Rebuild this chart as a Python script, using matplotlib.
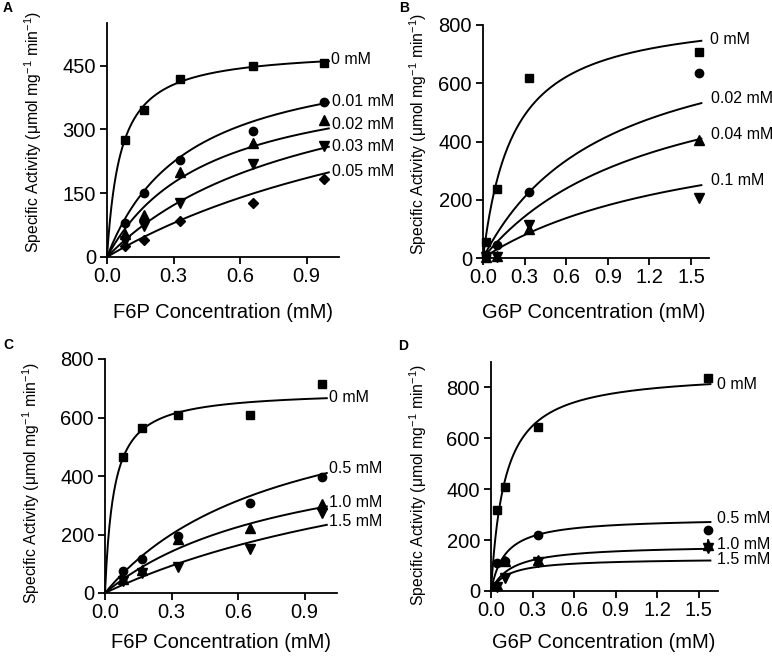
import numpy as np
import matplotlib
matplotlib.use("Agg")
import matplotlib.pyplot as plt

plt.rcParams['font.family'] = ['Liberation Sans', 'DejaVu Sans']
plt.rcParams['mathtext.fontset'] = 'custom'
plt.rcParams['mathtext.rm'] = 'Liberation Sans'
plt.rcParams['mathtext.it'] = 'Liberation Sans:italic'

# ---------------- data ----------------
# Panel A: F6P, inhibitor levels
a_x = [0.082, 0.165, 0.33, 0.66, 0.98]
a_labels = ['0 mM', '0.01 mM', '0.02 mM', '0.03 mM', '0.05 mM']
a_y0 = [275, 345, 419, 450, 457]
a_y1 = [81, 151, 229, 295, 364]
a_y2 = [54, 99, 200, 267, 322]
a_y3 = [38, 73, 126, 218, 262]
a_y4 = [26, 39, 85, 128, 183]
a_vmax = [489, 496, 440, 500, 555]
a_km = [0.062, 0.366, 0.456, 0.93, 1.79]

# Panel B: G6P
b_x = [0.025, 0.1, 0.333, 1.56]
b_labels = ['0 mM', '0.02 mM', '0.04 mM', '0.1 mM']
b_y0 = [54, 237, 617, 706]
b_y1 = [12, 46, 228, 635]
b_y2 = [4, 8, 100, 405]
b_y3 = [3, 5, 115, 206]
b_vmax = [850, 834, 735, 509]
b_km = [0.22, 0.895, 1.25, 1.63]

# Panel C: F6P
c_x = [0.082, 0.165, 0.33, 0.655, 0.98]
c_labels = ['0 mM', '0.5 mM', '1.0 mM', '1.5 mM']
c_y0 = [464, 563, 607, 607, 713]
c_y1 = [76, 117, 195, 307, 395]
c_y2 = [49, 80, 183, 221, 305]
c_y3 = [41, 70, 89, 150, 272]
c_vmax = [693, 741, 555, 655]
c_km = [0.0405, 0.807, 0.875, 1.81]

# Panel D: G6P
d_x = [0.04, 0.1, 0.336, 1.57]
d_labels = ['0 mM', '0.5 mM', '1.0 mM', '1.5 mM']
d_y0 = [319, 410, 646, 837]
d_y1 = [110, 116, 220, 238]
d_y2 = [22, 118, 122, 182]
d_y3 = [15, 52, 115, 168]
d_err2 = [0, 0, 0, 22]
d_vmax = [864, 288.6, 181.6, 129]
d_km = [0.0993, 0.103, 0.149, 0.121]

ylabel_text = 'Specific Activity (μmol mg$^{\\mathregular{-1}}$ min$^{\\mathregular{-1}}$)'

# ---------------- layout ----------------
W, H = 772, 657
fig = plt.figure(figsize=(W / 100, H / 100), dpi=100)

def px_axes(x0, x1, ybot, ytop):
    return fig.add_axes([x0 / W, (H - ybot) / H, (x1 - x0) / W, (ybot - ytop) / H])

def style(ax, xlim, ylim, xticks, yticks):
    ax.set_xlim(*xlim)
    ax.set_ylim(*ylim)
    for s in ['top', 'right']:
        ax.spines[s].set_visible(False)
    for s in ['left', 'bottom']:
        ax.spines[s].set_linewidth(1.3)
    ax.set_xticks(xticks)
    ax.set_xticklabels(['%.1f' % t for t in xticks])
    ax.set_yticks(yticks)
    ax.set_yticklabels(['%d' % t for t in yticks])
    ax.tick_params(axis='both', direction='out', width=1.3, length=5,
                   labelsize=14.5, pad=2)
    ax.tick_params(axis='y', pad=3)

markers = ['s', 'o', '^', 'v', 'D']
msizes = [5.5, 6, 6.5, 6.5, 5.5]

def draw(ax, xs, ys_list, vmax, km, labels, xend, offsets, marks, errs=None):
    for i, ys in enumerate(ys_list):
        xx = np.linspace(0, xend, 300)
        ax.plot(xx, vmax[i] * xx / (km[i] + xx), color='black', lw=1.4,
                clip_on=False)
        m = marks[i]
        ax.plot(xs, ys, linestyle='none', marker=m, color='black',
                markersize=msizes[markers.index(m)], clip_on=False)
        if errs is not None and errs[i] is not None:
            ax.errorbar(xs, ys, yerr=errs[i], fmt='none', ecolor='black',
                        elinewidth=1.2, capsize=0, clip_on=False)
        vend = vmax[i] * xend / (km[i] + xend)
        ax.annotate(labels[i], xy=(xend, vend), xytext=offsets[i],
                    textcoords='offset points', ha='left', va='center',
                    fontsize=11.5, annotation_clip=False)

# Panel A
axA = px_axes(107, 339, 257, 23)
style(axA, (0, 1.046), (0, 550), [0.0, 0.3, 0.6, 0.9], [0, 150, 300, 450])
draw(axA, a_x, [a_y0, a_y1, a_y2, a_y3, a_y4], a_vmax, a_km, a_labels, 1.0,
     [(1.5, 1), (2, 0.5), (2, 2.5), (2, 0), (2, 0.5)],
     ['s', 'o', '^', 'v', 'D'])

# Panel B
axB = px_axes(483, 709, 258, 25)
style(axB, (0, 1.63), (0, 800), [0.0, 0.3, 0.6, 0.9, 1.2, 1.5],
      [0, 200, 400, 600, 800])
draw(axB, b_x, [b_y0, b_y1, b_y2, b_y3], b_vmax, b_km, b_labels, 1.575,
     [(6, 1), (7, 3), (7, 3), (7, 3)], ['s', 'o', '^', 'v'])

# Panel C
axC = px_axes(105, 337, 593, 359)
style(axC, (0, 1.046), (0, 800), [0.0, 0.3, 0.6, 0.9], [0, 200, 400, 600, 800])
draw(axC, c_x, [c_y0, c_y1, c_y2, c_y3], c_vmax, c_km, c_labels, 1.0,
     [(1.5, 0.5), (1.5, 3.5), (1.5, 2.5), (1.5, 2.5)], ['s', 'o', '^', 'v'])

# Panel D
axD = px_axes(491, 718, 591, 362)
style(axD, (0, 1.64), (0, 900), [0.0, 0.3, 0.6, 0.9, 1.2, 1.5],
      [0, 200, 400, 600, 800])
draw(axD, d_x, [d_y0, d_y1, d_y2, d_y3], d_vmax, d_km, d_labels, 1.585,
     [(5, 0), (5, 2.5), (5, 3), (5, 0.5)], ['s', 'o', '^', 'v'],
     errs=[None, None, d_err2, None])

def ftext(xp, yp, s, **kw):
    fig.text(xp / W, 1 - yp / H, s, **kw)

# axis labels
ftext(223, 312, 'F6P Concentration (mM)', ha='center', va='center', fontsize=14.5)
ftext(594, 312, 'G6P Concentration (mM)', ha='center', va='center', fontsize=14.5)
ftext(221, 642, 'F6P Concentration (mM)', ha='center', va='center', fontsize=14.5)
ftext(604, 642, 'G6P Concentration (mM)', ha='center', va='center', fontsize=14.5)

ylab_fs = 11.3
ftext(33, 132, ylabel_text, rotation=90, ha='center', va='center', fontsize=ylab_fs)
ftext(418, 134, ylabel_text, rotation=90, ha='center', va='center', fontsize=ylab_fs)
ftext(31, 483, ylabel_text, rotation=90, ha='center', va='center', fontsize=ylab_fs)
ftext(418, 485, ylabel_text, rotation=90, ha='center', va='center', fontsize=ylab_fs)

# panel letters
for (xp, yp, s) in [(3, 8, 'A'), (399, 8, 'B'), (3, 345, 'C'), (398, 346, 'D')]:
    ftext(xp, yp, s, ha='left', va='center', fontsize=10, fontweight='bold')

fig.savefig('out.png', dpi=100)
